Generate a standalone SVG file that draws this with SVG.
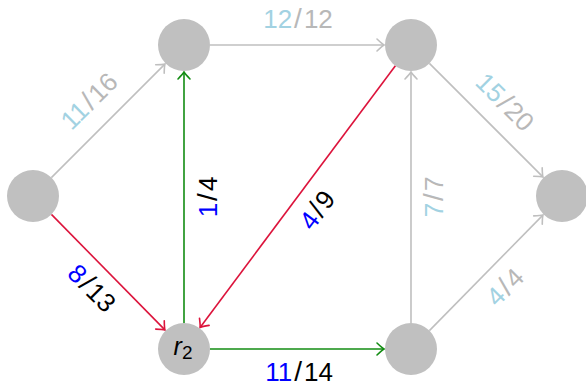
<svg xmlns="http://www.w3.org/2000/svg" width="586" height="386" viewBox="0 0 586 386">
<style>
.node{fill:#c0c0c0;}
.e{fill:none;stroke-width:1.6;}
.g{stroke:#bfbfbf;}
.r{stroke:#dc143c;}
.gr{stroke:#128c12;}
.lbl{font-family:"Liberation Sans",Arial,sans-serif;font-size:26px;text-anchor:middle;}
.lb{fill:#a2d2e2;}
.dg{fill:#b8b8b8;}
.bl{fill:#0000ff;}
.bk{fill:#000000;}
.sl{font-size:28px;}
</style>
<defs>
<marker id="ag" markerUnits="userSpaceOnUse" viewBox="-10 -8 12 16" refX="0" refY="0" markerWidth="12" markerHeight="16" orient="auto"><path d="M-7,-6 Q-2,-1.2 0,0 Q-2,1.2 -7,6" fill="none" stroke="#bfbfbf" stroke-width="1.6" stroke-linecap="round"/></marker>
<marker id="ar" markerUnits="userSpaceOnUse" viewBox="-10 -8 12 16" refX="0" refY="0" markerWidth="12" markerHeight="16" orient="auto"><path d="M-7,-6 Q-2,-1.2 0,0 Q-2,1.2 -7,6" fill="none" stroke="#dc143c" stroke-width="1.6" stroke-linecap="round"/></marker>
<marker id="agr" markerUnits="userSpaceOnUse" viewBox="-10 -8 12 16" refX="0" refY="0" markerWidth="12" markerHeight="16" orient="auto"><path d="M-7,-6 Q-2,-1.2 0,0 Q-2,1.2 -7,6" fill="none" stroke="#128c12" stroke-width="1.6" stroke-linecap="round"/></marker>
</defs>
<g id="connectors">
<g id="e-s-a"><line class="e g" x1="51.4" y1="177.6" x2="164.9" y2="64.1" marker-end="url(#ag)"/>
<text class="lbl" transform="translate(89,101) rotate(-45)" dy="0.35em"><tspan class="lb">11</tspan><tspan class="dg sl" dx="2">/</tspan><tspan class="dg" dx="2">16</tspan></text></g>
<g id="e-a-b"><line class="e g" x1="210" y1="45" x2="384" y2="45" marker-end="url(#ag)"/>
<text class="lbl" x="298" y="28"><tspan class="lb">12</tspan><tspan class="dg sl" dx="2">/</tspan><tspan class="dg" dx="2">12</tspan></text></g>
<g id="e-b-t"><line class="e g" x1="429.4" y1="63.4" x2="542.9" y2="176.9" marker-end="url(#ag)"/>
<text class="lbl" transform="translate(505,102) rotate(45)" dy="0.35em"><tspan class="lb">15</tspan><tspan class="dg sl" dx="2">/</tspan><tspan class="dg" dx="2">20</tspan></text></g>
<g id="e-s-r2"><line class="e r" x1="51.4" y1="214.4" x2="164.9" y2="329.9" marker-end="url(#ar)"/>
<text class="lbl" transform="translate(92,288) rotate(45)" dy="0.35em"><tspan class="bl">8</tspan><tspan class="bk sl" dx="2">/</tspan><tspan class="bk" dx="2">13</tspan></text></g>
<g id="e-r2-a"><line class="e gr" x1="184" y1="323" x2="184" y2="72" marker-end="url(#agr)"/>
<text class="lbl" transform="translate(208,197) rotate(-90)" dy="0.35em"><tspan class="bl">1</tspan><tspan class="bk sl" dx="2">/</tspan><tspan class="bk" dx="2">4</tspan></text></g>
<g id="e-b-r2"><line class="e r" x1="395.4" y1="65.8" x2="200.1" y2="327.4" marker-end="url(#ar)"/>
<text class="lbl" transform="translate(317,210) rotate(-53.3)" dy="0.35em"><tspan class="bl">4</tspan><tspan class="bk sl" dx="2">/</tspan><tspan class="bk" dx="2">9</tspan></text></g>
<g id="e-d-b"><line class="e g" x1="411" y1="323" x2="411" y2="72" marker-end="url(#ag)"/>
<text class="lbl" transform="translate(434,197) rotate(-90)" dy="0.35em"><tspan class="lb">7</tspan><tspan class="dg sl" dx="2">/</tspan><tspan class="dg" dx="2">7</tspan></text></g>
<g id="e-d-t"><line class="e g" x1="429.4" y1="330.6" x2="542.9" y2="215.1" marker-end="url(#ag)"/>
<text class="lbl" transform="translate(505,287) rotate(-45)" dy="0.35em"><tspan class="lb">4</tspan><tspan class="dg sl" dx="2">/</tspan><tspan class="dg" dx="2">4</tspan></text></g>
<g id="e-r2-d"><line class="e gr" x1="210" y1="349" x2="384" y2="349" marker-end="url(#agr)"/>
<text class="lbl" x="299" y="381"><tspan class="bl">11</tspan><tspan class="bk sl" dx="2">/</tspan><tspan class="bk" dx="2">14</tspan></text></g>
</g>
<g id="node-s"><circle class="node" cx="33" cy="196" r="26"/></g>
<g id="node-a"><circle class="node" cx="184" cy="45" r="26"/></g>
<g id="node-b"><circle class="node" cx="411" cy="45" r="26"/></g>
<g id="node-t"><circle class="node" cx="562" cy="196" r="26"/></g>
<g id="node-r2"><circle class="node" cx="184" cy="349" r="26"/>
<text x="183" y="355" font-family="Liberation Sans,Arial,sans-serif" font-size="25" text-anchor="middle" fill="#000"><tspan font-style="italic">r</tspan><tspan font-size="19" dy="4">2</tspan></text></g>
<g id="node-d"><circle class="node" cx="411" cy="349" r="26"/></g>
</svg>
